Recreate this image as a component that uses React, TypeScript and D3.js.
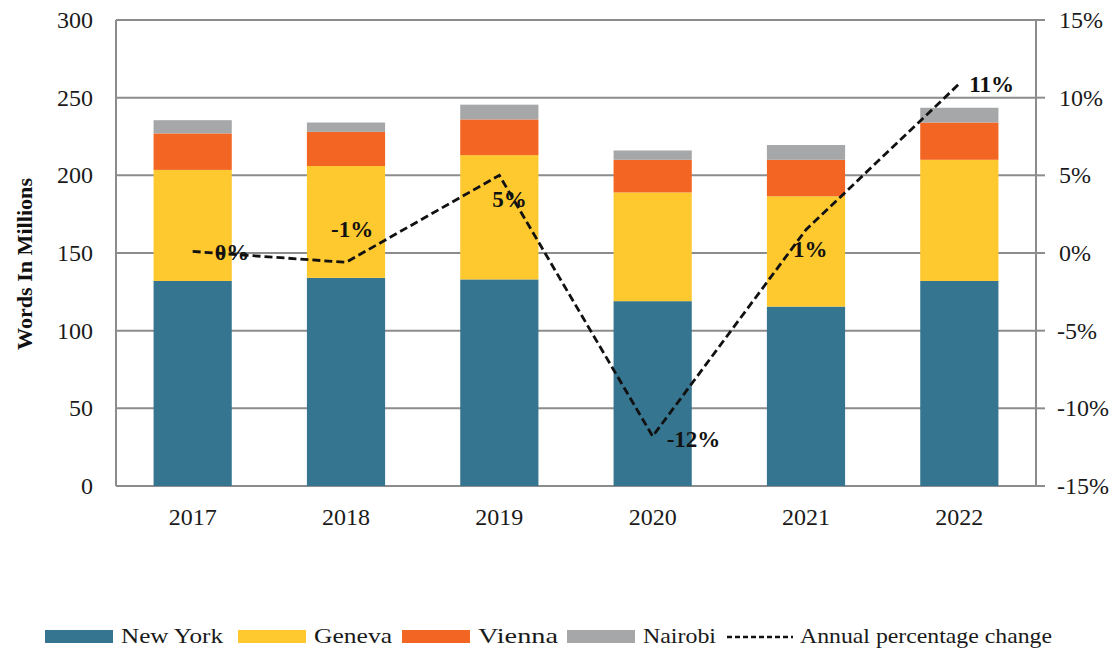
import React, { useEffect, useRef } from 'react';
import * as d3 from 'd3';

const years = ['2017', '2018', '2019', '2020', '2021', '2022'];
const newYork = [132, 134, 133, 119, 115.5, 132];
const geneva = [71.5, 72, 80, 70, 71, 78];
const vienna = [23.5, 22, 23, 21, 23.5, 24];
const nairobi = [8.5, 6, 9.5, 6, 9.5, 9.5];
const pctChange = [0.1, -0.6, 5, -11.8, 1.5, 10.9];
const pctLabels = ['0%', '-1%', '5%', '-12%', '1%', '11%'];
const leftTicks = [0, 50, 100, 150, 200, 250, 300];
const rightTicks = [-15, -10, -5, 0, 5, 10, 15];
const seriesNames = ['New York', 'Geneva', 'Vienna', 'Nairobi'];
const colors = ['#36758f', '#fec82f', '#f26522', '#a5a7a9'];

const FONT = '"Liberation Serif", "Times New Roman", serif';

const App = () => {
    const ref = useRef<SVGSVGElement>(null);

    useEffect(() => {
        document.body.style.margin = '0';
        const svg = d3.select(ref.current);
        svg.selectAll('*').remove();

        const margin = { top: 20, right: 78, bottom: 165, left: 116 };
        const width = 1114 - margin.left - margin.right;
        const height = 651 - margin.top - margin.bottom;

        const x = d3.scaleBand().domain(years).range([0, width]).paddingInner(0.49).paddingOuter(0.245);
        const y = d3.scaleLinear().domain([0, 300]).range([height, 0]);
        const yPct = d3.scaleLinear().domain([-15, 15]).range([height, 0]);

        const g = svg.append('g').attr('transform', `translate(${margin.left},${margin.top})`);

        // gridlines
        g.selectAll('.grid')
            .data(leftTicks)
            .enter().append('line')
            .attr('x1', 0)
            .attr('x2', width)
            .attr('y1', d => y(d))
            .attr('y2', d => y(d))
            .attr('stroke', '#8c8c8c')
            .attr('stroke-width', 2);

        // left axis line + labels
        g.append('line').attr('x1', 0).attr('x2', 0).attr('y1', 0).attr('y2', height)
            .attr('stroke', '#8c8c8c').attr('stroke-width', 2);
        g.selectAll('.ltick')
            .data(leftTicks)
            .enter().append('text')
            .attr('x', -23)
            .attr('y', d => y(d) + 8)
            .attr('text-anchor', 'end')
            .attr('font-family', FONT)
            .attr('font-size', 24)
            .attr('fill', '#1a1a1a')
            .text(d => d);

        // right axis
        g.append('line').attr('x1', width).attr('x2', width).attr('y1', 0).attr('y2', height)
            .attr('stroke', '#8c8c8c').attr('stroke-width', 2);
        g.selectAll('.rtickline')
            .data(rightTicks)
            .enter().append('line')
            .attr('x1', width)
            .attr('x2', width + 9)
            .attr('y1', d => yPct(d))
            .attr('y2', d => yPct(d))
            .attr('stroke', '#8c8c8c')
            .attr('stroke-width', 2);
        g.selectAll('.rtick')
            .data(rightTicks)
            .enter().append('text')
            .attr('x', d => width + (d < 0 ? 21 : 23))
            .attr('y', d => yPct(d) + 8)
            .attr('font-family', FONT)
            .attr('font-size', 24)
            .attr('fill', '#1a1a1a')
            .text(d => `${d}%`);

        // x labels
        g.selectAll('.xtick')
            .data(years)
            .enter().append('text')
            .attr('x', d => x(d)! + x.bandwidth() / 2)
            .attr('y', height + 39)
            .attr('text-anchor', 'middle')
            .attr('font-family', FONT)
            .attr('font-size', 24)
            .attr('fill', '#1a1a1a')
            .text(d => d);

        // stacked bars
        const rows = years.map((yr, i) => ({
            year: yr,
            'New York': newYork[i],
            Geneva: geneva[i],
            Vienna: vienna[i],
            Nairobi: nairobi[i],
        }));
        const stack = d3.stack<any>().keys(seriesNames)(rows);
        g.selectAll('.layer')
            .data(stack)
            .enter().append('g')
            .attr('fill', (d, i) => colors[i])
            .selectAll('rect')
            .data(d => d)
            .enter().append('rect')
            .attr('x', d => x(d.data.year)!)
            .attr('width', x.bandwidth())
            .attr('y', d => y(d[1]))
            .attr('height', d => y(d[0]) - y(d[1]));

        // percentage line
        const line = d3.line<number>()
            .x((d, i) => x(years[i])! + x.bandwidth() / 2)
            .y(d => yPct(d));
        g.append('path')
            .datum(pctChange)
            .attr('d', line)
            .attr('fill', 'none')
            .attr('stroke', '#111')
            .attr('stroke-width', 2.8)
            .attr('stroke-dasharray', '8,4');

        const labelOffsets = [
            [22, 9], [-15, -25], [-7, 32], [14, 11], [-13, 27], [10, 8],
        ];
        g.selectAll('.pct')
            .data(pctChange)
            .enter().append('text')
            .attr('x', (d, i) => x(years[i])! + x.bandwidth() / 2 + labelOffsets[i][0])
            .attr('y', (d, i) => yPct(d) + labelOffsets[i][1])
            .attr('font-family', FONT)
            .attr('font-size', 23)
            .attr('font-weight', 'bold')
            .attr('fill', '#111')
            .text((d, i) => pctLabels[i]);

        // y title
        svg.append('text')
            .attr('transform', `translate(32,264) rotate(-90)`)
            .attr('text-anchor', 'middle')
            .attr('font-family', FONT)
            .attr('font-size', 21)
            .attr('font-weight', 'bold')
            .attr('fill', '#111')
            .attr('textLength', 172)
            .attr('lengthAdjust', 'spacingAndGlyphs')
            .text('Words In Millions');

        // legend
        const legendItems = [
            { name: 'New York', x: 45, color: colors[0], len: 102 },
            { name: 'Geneva', x: 238, color: colors[1], len: 78 },
            { name: 'Vienna', x: 402, color: colors[2], len: 80 },
            { name: 'Nairobi', x: 567, color: colors[3], len: 73 },
        ];
        const legend = svg.append('g').attr('class', 'legend');
        legendItems.forEach(item => {
            legend.append('rect')
                .attr('x', item.x)
                .attr('y', 630)
                .attr('width', 68)
                .attr('height', 13)
                .attr('fill', item.color);
            legend.append('text')
                .attr('x', item.x + 76)
                .attr('y', 643)
                .attr('font-family', FONT)
                .attr('font-size', 21)
                .attr('fill', '#1a1a1a')
                .attr('textLength', item.len)
                .attr('lengthAdjust', 'spacingAndGlyphs')
                .text(item.name);
        });
        legend.append('line')
            .attr('x1', 727).attr('x2', 793)
            .attr('y1', 637).attr('y2', 637)
            .attr('stroke', '#111')
            .attr('stroke-width', 2.5)
            .attr('stroke-dasharray', '5,3');
        legend.append('text')
            .attr('x', 800)
            .attr('y', 643)
            .attr('font-family', FONT)
            .attr('font-size', 21)
            .attr('fill', '#1a1a1a')
            .attr('textLength', 252)
            .attr('lengthAdjust', 'spacingAndGlyphs')
            .text('Annual percentage change');
    }, []);

    return <svg ref={ref} width={1114} height={651} style={{ display: 'block', background: '#fff' }} />;
};

export default App;
